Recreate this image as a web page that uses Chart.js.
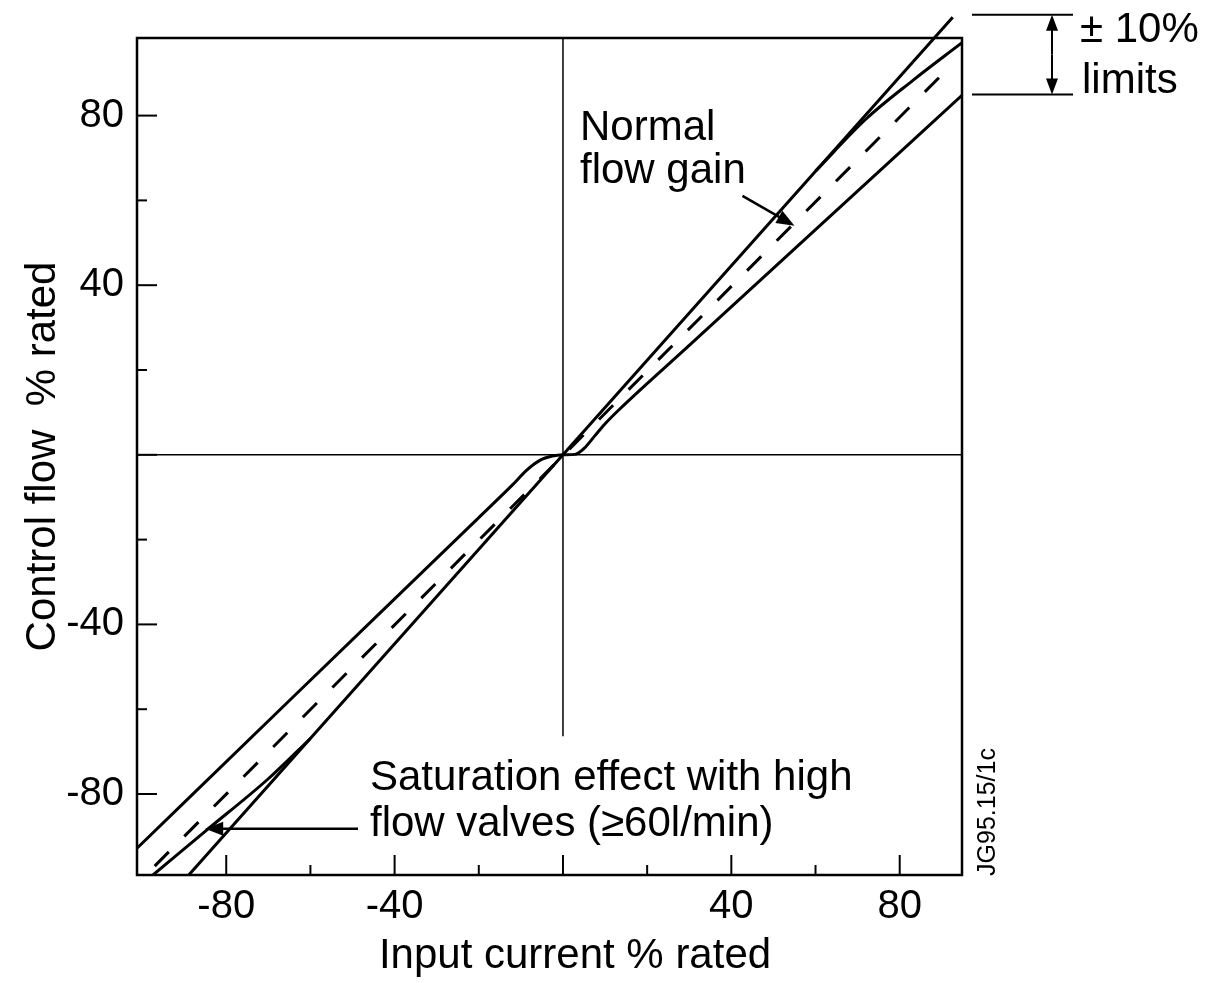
<!DOCTYPE html>
<html>
<head>
<meta charset="utf-8">
<script src="https://cdn.jsdelivr.net/npm/chart.js@4.4.1/dist/chart.umd.min.js"></script>
<style>
  html, body { margin: 0; padding: 0; background: #fff; }
  #wrap { width: 1222px; height: 983px; position: relative; }
</style>
</head>
<body>
<div id="wrap"><canvas id="grafico"></canvas></div>
<script>
const FONTE = '"Liberation Sans", Arial, Helvetica, sans-serif';

// limites dos eixos (% rated)
const xMin = -101.2, xMax = 94.8;
const yMin = -99.1, yMax = 98.3;
const xLabels = [-80, -40, 40, 80];
const yLabels = [-80, -40, 40, 80];

// curva nominal (tracejada)
const nominalX = [-97, 93];
const nominalY = [-97, 92.6];
// limite +10% / -10%
const ganhoAltoX = [-88.9, 0, 92.6];
const ganhoAltoY = [-99.1, 0, 103.2];
const ganhoBaixoX = [-101.2, -64, -20, -12, -8.6, -5.5, -2.5, 0, 2.8, 5, 7.5, 9.8, 13.5, 30, 60, 94.8];
const ganhoBaixoY = [-92.8, -57, -14.8, -7.1, -3.6, -1.3, -0.3, 0, 0.1, 1.5, 4.4, 7.1, 10.8, 25.8, 53.1, 84.8];
// saturacao (valvulas de alta vazao)
const satNegX = [-97.4, -85, -70, -60];
const satNegY = [-99.1, -88.8, -76.4, -66.9];
const satPosX = [60, 72, 83, 94.8];
const satPosY = [66.9, 79.2, 88.2, 97.2];
// linhas do zero
const eixoHX = [xMin, xMax];
const eixoHY = [0, 0];
const eixoVX = [0, 0];
const eixoVY = [yMax, -66.4];

const pts = (xs, ys) => xs.map((x, i) => ({ x: x, y: ys[i] }));

function linha(dados, extra) {
  return Object.assign({
    data: dados,
    showLine: true,
    borderColor: '#000',
    borderWidth: 3,
    pointRadius: 0,
    fill: false
  }, extra || {});
}

function seta(ctx, x0, y0, x1, y1, comp, meia) {
  const ang = Math.atan2(y1 - y0, x1 - x0);
  ctx.beginPath();
  ctx.moveTo(x0, y0);
  ctx.lineTo(x1 - Math.cos(ang) * comp * 0.6, y1 - Math.sin(ang) * comp * 0.6);
  ctx.stroke();
  ctx.beginPath();
  ctx.moveTo(x1, y1);
  ctx.lineTo(x1 - Math.cos(ang) * comp - Math.sin(ang) * meia, y1 - Math.sin(ang) * comp + Math.cos(ang) * meia);
  ctx.lineTo(x1 - Math.cos(ang) * comp + Math.sin(ang) * meia, y1 - Math.sin(ang) * comp - Math.cos(ang) * meia);
  ctx.closePath();
  ctx.fill();
}

const moldura = {
  id: 'moldura',
  afterDraw(chart) {
    const ctx = chart.ctx;
    const a = chart.chartArea;
    const xs = chart.scales.x, ys = chart.scales.y;
    ctx.save();
    ctx.strokeStyle = '#000';
    ctx.fillStyle = '#000';

    // moldura
    ctx.lineWidth = 2.5;
    ctx.strokeRect(a.left, a.top, a.right - a.left, a.bottom - a.top);

    // marcas para dentro
    ctx.lineWidth = 2;
    xs.ticks.forEach(t => {
      if (t.value <= xMin + 2 || t.value >= xMax - 2) return;
      const len = t.value % 40 === 0 ? 20 : 10;
      const px = xs.getPixelForValue(t.value);
      ctx.beginPath(); ctx.moveTo(px, a.bottom); ctx.lineTo(px, a.bottom - len); ctx.stroke();
    });
    ys.ticks.forEach(t => {
      if (t.value <= yMin + 2 || t.value >= yMax - 2) return;
      const len = t.value % 40 === 0 ? 20 : 10;
      const py = ys.getPixelForValue(t.value);
      ctx.beginPath(); ctx.moveTo(a.left, py); ctx.lineTo(a.left + len, py); ctx.stroke();
    });

    // titulo do eixo x
    ctx.font = '42px ' + FONTE;
    ctx.textBaseline = 'alphabetic';
    ctx.textAlign = 'center';
    ctx.fillText('Input current % rated', 575, 968);

    // anotacoes
    ctx.textAlign = 'left';
    ctx.fillText('Normal', 580, 140);
    ctx.fillText('flow gain', 580, 183);
    ctx.fillText('Saturation effect with high', 370, 790);
    ctx.fillText('flow valves (\u226560l/min)', 370, 836);
    ctx.fillText('\u00b1 10%', 1080, 42);
    ctx.fillText('limits', 1082, 93);

    ctx.lineWidth = 2.5;
    const tipN = { x: xs.getPixelForValue(55), y: ys.getPixelForValue(54) };
    seta(ctx, tipN.x - 52, tipN.y - 30, tipN.x, tipN.y, 18, 7);
    const tipS = { x: xs.getPixelForValue(-85), y: ys.getPixelForValue(-88.2) };
    seta(ctx, 358, tipS.y, tipS.x, tipS.y, 18, 7);

    // faixa de +-10%
    const yTop = ys.getPixelForValue(103.8), yBot = ys.getPixelForValue(85);
    ctx.lineWidth = 2;
    ctx.beginPath();
    ctx.moveTo(972, yTop); ctx.lineTo(1073, yTop);
    ctx.moveTo(972, yBot); ctx.lineTo(1073, yBot);
    ctx.stroke();
    seta(ctx, 1052, (yTop + yBot) / 2, 1052, yTop, 16, 6);
    seta(ctx, 1052, (yTop + yBot) / 2, 1052, yBot, 16, 6);

    // referencia da figura
    ctx.save();
    ctx.translate(988, 812);
    ctx.rotate(-Math.PI / 2);
    ctx.font = '25px ' + FONTE;
    ctx.textAlign = 'center';
    ctx.textBaseline = 'middle';
    ctx.fillText('JG95.15/1c', 0, 0);
    ctx.restore();

    ctx.restore();
  }
};

new Chart(document.getElementById('grafico'), {
  type: 'scatter',
  data: {
    datasets: [
      linha(pts(eixoHX, eixoHY), { borderWidth: 1.5 }),
      linha(pts(eixoVX, eixoVY), { borderWidth: 1.5 }),
      linha(pts(nominalX, nominalY), { borderDash: [20, 22] }),
      linha(pts(ganhoAltoX, ganhoAltoY), { clip: false }),
      linha(pts(ganhoBaixoX, ganhoBaixoY), { cubicInterpolationMode: 'monotone' }),
      linha(pts(satNegX, satNegY), { cubicInterpolationMode: 'monotone' }),
      linha(pts(satPosX, satPosY), { cubicInterpolationMode: 'monotone' })
    ]
  },
  options: {
    responsive: true,
    maintainAspectRatio: false,
    animation: false,
    layout: { padding: { top: 38, right: 260, left: 0, bottom: 0 } },
    plugins: {
      legend: { display: false },
      tooltip: { enabled: false }
    },
    scales: {
      x: {
        type: 'linear',
        min: xMin,
        max: xMax,
        afterFit: s => { s.height = 108; },
        grid: { display: false, drawTicks: false },
        border: { display: false },
        ticks: {
          stepSize: 20,
          includeBounds: false,
          autoSkip: false,
          maxRotation: 0,
          padding: 8,
          color: '#000',
          font: { family: FONTE, size: 40 },
          callback: v => xLabels.includes(v) ? String(v) : ''
        }
      },
      y: {
        type: 'linear',
        min: yMin,
        max: yMax,
        afterFit: s => { s.width = 137; },
        grid: { display: false, drawTicks: false },
        border: { display: false },
        title: {
          display: true,
          text: 'Control flow  % rated',
          color: '#000',
          font: { family: FONTE, size: 42 },
          padding: { top: 18, bottom: 0 }
        },
        ticks: {
          stepSize: 20,
          includeBounds: false,
          autoSkip: false,
          padding: 13,
          color: '#000',
          font: { family: FONTE, size: 40 },
          callback: v => yLabels.includes(v) ? String(v) : ''
        }
      }
    }
  },
  plugins: [moldura]
});
</script>
</body>
</html>
